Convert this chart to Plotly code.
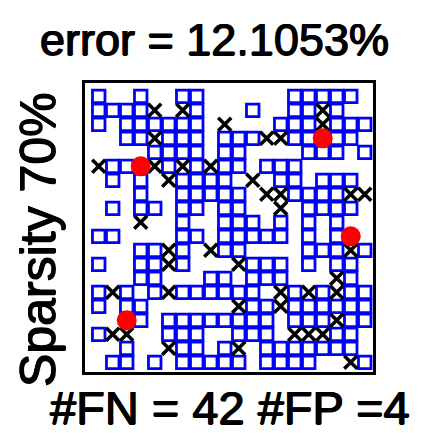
import plotly.graph_objects as go

# Support pattern (row 1 = top, column 1 = left)
# '#' = recovered nonzero (blue square), 'x' = false negative, 'o' = false positive, '.' = zero
pattern = [
    "#..#..##......#####.",
    "####x.x#...#..##x#..",
    "#.######.x...###x###",
    "..##x###.###xx##o##.",
    "....####.##....###.#",
    "x##ox#x#x##.###.....",
    ".#.#.x####.x.##.###.",
    "...#..#####.xx####xx",
    ".#.##.##.##..x.####.",
    "...x..#..###.#.#.#..",
    "##....##.#####.#.#o.",
    "...##x#.x##....###x#",
    "#..##x#...x###.#.##.",
    "...##...##.###...x#.",
    "#x#.#x######.x#x#x##",
    "#.##......x##x######",
    "..o#.########.###x##",
    "#xx..###..###.xxx##.",
    "..#..x##.#x.#######.",
    ".##.#.#####.####..x#",
]

title_text = "error = 12.1053%"
xlabel_text = "#FN = 42 #FP =4"
ylabel_text = "Sparsity 70%"

sq_r, sq_c, fn_r, fn_c, fp_r, fp_c = [], [], [], [], [], []
for i, line in enumerate(pattern, start=1):
    for j, ch in enumerate(line, start=1):
        if ch == "#":
            sq_r.append(i); sq_c.append(j)
        elif ch == "x":
            fn_r.append(i); fn_c.append(j)
        elif ch == "o":
            fp_r.append(i); fp_c.append(j)

fig = go.Figure()
fig.add_trace(go.Scatter(x=sq_c, y=sq_r, mode="markers", hoverinfo="skip",
                         marker=dict(symbol="square-open", size=12.5, color="#0000ff",
                                     line=dict(width=2.8, color="#0000ff"))))
fig.add_trace(go.Scatter(x=fn_c, y=fn_r, mode="markers", hoverinfo="skip",
                         marker=dict(symbol="x-thin", size=13, color="black",
                                     line=dict(width=3.5, color="black"))))
fig.add_trace(go.Scatter(x=fp_c, y=fp_r, mode="markers", hoverinfo="skip",
                         marker=dict(symbol="circle", size=20, color="#ff0000",
                                     line=dict(width=0))))

heavy = "0.7px 0px 0px black, -0.7px 0px 0px black, 0px 0.5px 0px black"
axis_common = dict(showgrid=False, zeroline=False, showticklabels=False, ticks="",
                   showline=True, mirror=True, linecolor="black", linewidth=3)
fig.update_layout(
    width=424, height=433, autosize=False,
    margin=dict(l=85, r=51, t=83, b=61, pad=0),
    plot_bgcolor="white", paper_bgcolor="white", showlegend=False,
    xaxis=dict(range=[0.02, 20.59], **axis_common),
    yaxis=dict(range=[20.69, 0.05], **axis_common),
    font=dict(family="Arial, Liberation Sans, sans-serif", color="black"),
    annotations=[
        dict(text=title_text, xref="paper", yref="paper", x=0.448, y=1.149,
             xanchor="center", yanchor="middle", showarrow=False, borderpad=0,
             font=dict(size=45, color="black", shadow=heavy)),
        dict(text=xlabel_text, xref="paper", yref="paper", x=0.503, y=-0.124,
             xanchor="center", yanchor="middle", showarrow=False, borderpad=0,
             font=dict(size=47, color="black", shadow=heavy)),
        dict(text=ylabel_text, xref="paper", yref="paper", x=-0.163, y=0.457,
             xanchor="center", yanchor="middle", showarrow=False, textangle=-90,
             borderpad=0, font=dict(size=50, color="black", shadow=heavy)),
    ],
)
fig.write_html("out.html", config={"displayModeBar": False},
               post_script="document.body.style.margin='0';")
